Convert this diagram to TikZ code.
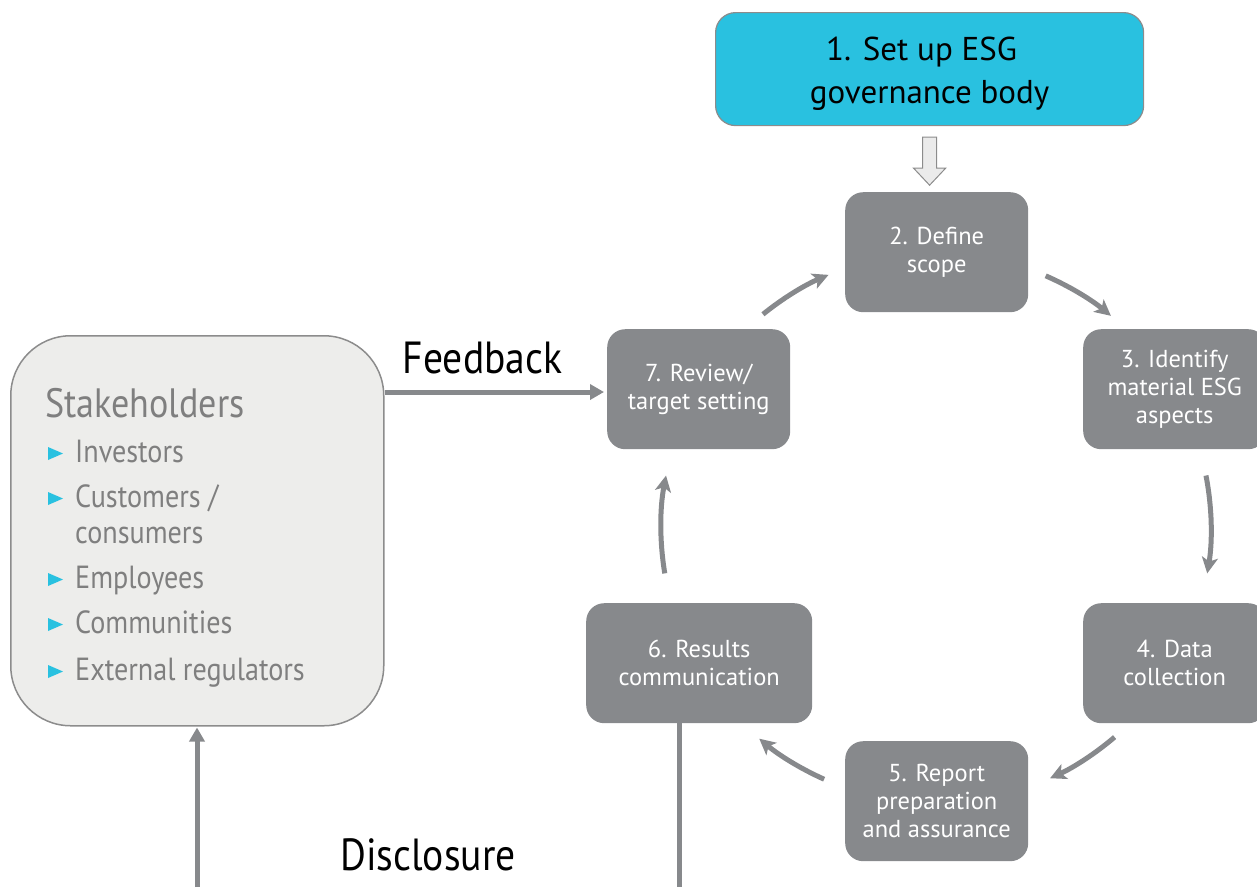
\documentclass[tikz,border=0pt]{standalone}
\usepackage{fontspec}
\setmainfont{PT Sans}[FakeStretch=0.88]
\newfontfamily\boxfont{PT Sans}
\usetikzlibrary{arrows.meta,calc}
\definecolor{cyanbox}{HTML}{29C1E0}
\definecolor{boxgray}{HTML}{87898C}
\definecolor{stkfill}{HTML}{EDEDEB}
\definecolor{stkline}{HTML}{8C8C8C}
\definecolor{stktext}{HTML}{7F7F7F}
\definecolor{bulletcyan}{HTML}{29C1E0}
\definecolor{hollowfill}{HTML}{EBEBEB}
\begin{document}
\begin{tikzpicture}[x=1pt,y=1pt,
  stepbox/.style={fill=boxgray, draw=none, rounded corners=18pt, text=white, align=center,
    font=\boxfont\fontsize{24.5}{28}\selectfont, inner sep=0pt, minimum width=183pt, minimum height=120pt, anchor=north west},
  govbox/.style={fill=cyanbox, draw=stkline, line width=1.2pt, rounded corners=20pt, text=black, align=center,
    font=\boxfont\fontsize{33}{43}\selectfont, inner sep=0pt, minimum width=428pt, minimum height=113pt, anchor=north west},
  stkbox/.style={fill=stkfill, draw=stkline, line width=1.5pt, rounded corners=60pt, inner sep=0pt,
    minimum width=373pt, minimum height=390pt, anchor=north west},
  bigtitle/.style={font=\fontsize{41}{48}\selectfont, text=stktext, inner sep=0pt, anchor=base west},
  item/.style={font=\fontsize{32}{36}\selectfont, text=stktext, inner sep=0pt, anchor=base west},
  lbl/.style={font=\fontsize{45}{50}\selectfont, text=black, inner sep=0pt, anchor=base},
  conn/.style={draw=boxgray, line width=5pt},
  cyc/.style={draw=boxgray, line width=5pt, -{Stealth[length=16pt,width=16pt,inset=4pt]}},
  bullet/.style={fill=bulletcyan, draw=none}
]
\useasboundingbox (0,0) rectangle (1257,-887);

% boxes
\node[govbox] (n1) at (715,-12) {\rule{0pt}{33pt}1. Set up ESG\hspace*{16pt}\\governance body};
\node[stepbox] (n2) at (845,-192) {2. Define\\scope};
\node[stepbox] (n3) at (1083,-329) {3. Identify\\material ESG\\aspects};
\node[stepbox] (n4) at (1083,-603) {4. Data\\collection};
\node[stepbox] (n5) at (845,-741) {5. Report\\preparation\\and assurance};
\node[stepbox, minimum width=226pt] (n6) at (586,-603) {6. Results\\communication};
\node[stepbox] (n7) at (607,-329) {7. Review/\\target setting};

% stakeholders
\node[stkbox] (stk) at (10,-335) {};
\node[bigtitle] (st) at (45,-417) {Stakeholders};
\foreach \b in {462, 507, 588, 633, 680}{
  \fill[bullet] (48,-\b+15) -- (48,-\b+2) -- (63,-\b+8.5) -- cycle;
}
\node[item] (i1) at (75,-462) {Investors};
\node[item] (i2) at (75,-507) {Customers /};
\node[item] (i2b) at (75,-543) {consumers};
\node[item] (i3) at (75,-588) {Employees};
\node[item] (i4) at (75,-633) {Communities};
\node[item] (i5) at (75,-680) {External regulators};

% hollow arrow from governance body to scope
\coordinate (ha) at ($(n1.south)+(0,-11)$);
\draw[fill=hollowfill, draw=stkline, line width=1pt]
  ($(ha)+(-7,0)$) -- ($(ha)+(7,0)$) -- ($(ha)+(7,-31)$) -- ($(ha)+(16,-31)$)
  -- ($(ha)+(0,-48)$) -- ($(ha)+(-16,-31)$) -- ($(ha)+(-7,-31)$) -- cycle;

% cycle arrows
\coordinate (ctr) at (936,-528);
\draw[cyc] ($(ctr)+(-231:275)$) arc[start angle=-231, end angle=-247, radius=275];
\draw[cyc] ($(ctr)+(-293.5:275)$) arc[start angle=-293.5, end angle=-309.5, radius=275];
\draw[cyc] ($(ctr)+(-349:275)$) arc[start angle=-349, end angle=-369.5, radius=275];
\draw[cyc] ($(ctr)+(-49.5:275)$) arc[start angle=-49.5, end angle=-65.5, radius=275];
\draw[cyc] ($(ctr)+(-114:275)$) arc[start angle=-114, end angle=-130, radius=275];
\draw[cyc] ($(ctr)+(-170.5:275)$) arc[start angle=-170.5, end angle=-191, radius=275];

% feedback
\coordinate (fb) at (0,-392);
\draw[conn, -{Triangle[length=14pt,width=15pt]}] (stk.east |- fb) -- ($(n7.west |- fb)+(-3,0)$);
\node[lbl] (fbl) at (482.5,-373) {Feedback};

% disclosure
\coordinate (dR) at (679,-887);
\coordinate (dL) at (197,-887);
\draw[conn] (n6.south -| dR) -- (dR);
\draw[conn, -{Triangle[length=14pt,width=15pt]}] (dL) -- ($(stk.south -| dL)+(0,-1)$);
\node[lbl] (dsl) at (428,-870) {Disclosure};
\end{tikzpicture}
\end{document}
